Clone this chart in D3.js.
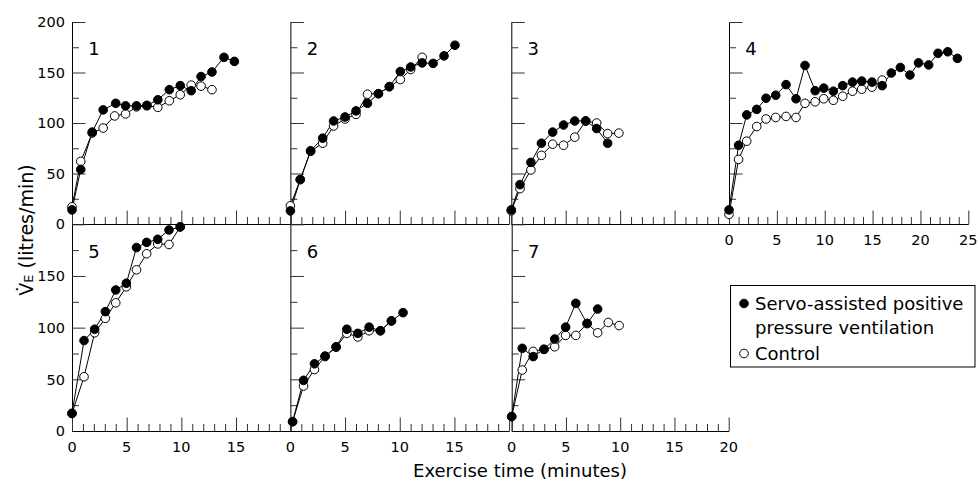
<!DOCTYPE html>
<html><head><meta charset="utf-8">
<script src="https://cdn.jsdelivr.net/npm/d3@7"></script>
<style>
body{margin:0;background:#fff}
svg{display:block}
text{font-family:"DejaVu Sans",sans-serif;fill:#000}
</style>
</head><body>
<svg id="chart" width="978" height="480"></svg>
<script>
// ---- data: [exercise time (min), VE (litres/min)] ----
const servo1 = [[0,14],[0.8,54],[1.85,91],[2.85,113],[4,119.5],[4.9,117],[5.9,117],[6.85,117.5],[7.85,123],[8.9,133],[9.9,137],[10.9,132],[11.8,146],[12.8,150.5],[13.9,165],[14.85,161]];
const control1 = [[0,17],[0.8,62],[1.85,90],[2.85,95],[3.9,107],[4.9,109],[5.9,116],[6.85,117],[7.85,115.5],[8.9,122],[9.9,128],[10.9,137.5],[11.8,136.5],[12.8,133]];
const servo2 = [[0,13],[0.9,44],[1.85,72.5],[2.95,85],[3.95,102],[5,106],[6,112],[7.05,119.5],[8.05,129],[9.05,136],[10.05,151],[11,155.5],[12.05,159.5],[13.05,159],[14.05,166.5],[15.05,177]];
const control2 = [[0,18],[0.9,44],[1.85,72],[2.95,80],[3.95,97],[5,104],[6,108.5],[7.05,128.5],[8.05,129],[9.05,136],[10.05,143],[11,153],[12.05,165]];
const servo3 = [[0,14],[0.8,39],[1.8,61],[2.77,80],[3.8,91],[4.8,98],[5.83,102],[6.83,102],[7.84,94.5],[8.85,80]];
const control3 = [[0,13],[0.8,35],[1.8,53.5],[2.77,68],[3.8,79],[4.8,78],[5.83,86],[6.83,102],[7.84,100],[8.85,89.5],[9.88,90]];
const servo4 = [[0,14],[1,78],[1.85,108],[2.9,113.5],[3.87,124.5],[4.88,127.5],[5.96,138],[7,124],[7.94,157],[9,132],[9.9,134.5],[10.9,131.5],[11.88,137],[12.9,140.5],[13.87,141.5],[14.94,140.5],[16,137],[16.96,149.5],[17.9,155],[18.9,147.5],[19.8,159.5],[20.86,157.5],[21.84,169],[22.85,170.5],[23.86,164]];
const control4 = [[0,9.5],[1,64],[1.85,82],[2.9,96.5],[3.87,104],[4.88,105.5],[5.96,106.5],[7,105.5],[7.94,119.5],[9,121],[9.9,124],[10.9,122.5],[11.88,126.5],[12.9,131.5],[13.87,133.5],[14.94,135.5],[16,142.5]];
const servo5 = [[0,17],[1.1,87.5],[2.07,98.5],[3.05,115.5],[4,136.5],[4.97,143],[5.9,177.5],[6.83,182.5],[7.84,185.5],[8.87,194.5],[9.9,197.5]];
const control5 = [[0,17],[1.1,52.5],[2.07,95],[3.05,109],[4,124],[4.97,139.5],[5.9,156],[6.83,171.5],[7.84,181],[8.87,180.5],[9.9,197.5]];
const servo6 = [[0.2,9],[1.2,49],[2.2,65],[3.17,72.5],[4.18,81.5],[5.16,98.5],[6.17,94.5],[7.2,100.5],[8.23,97],[9.24,106.5],[10.3,114.5]];
const control6 = [[0.2,9],[1.2,43.5],[2.2,59.5],[3.17,72],[4.18,81],[5.16,94.5],[6.17,91],[7.2,97],[8.23,97],[9.24,106.5]];
const servo7 = [[0,14],[0.97,80],[1.98,72],[2.98,79],[3.96,89],[4.97,100.5],[5.91,123.5],[6.95,104],[7.92,118]];
const control7 = [[0,14],[0.97,59],[1.98,77],[2.98,79],[3.96,81.5],[4.97,92.5],[5.91,92.5],[6.95,104],[7.92,95],[8.9,105],[9.9,102]];

const panelNames = ["1","2","3","4","5","6","7"];
const servoSeries = [servo1,servo2,servo3,servo4,servo5,servo6,servo7];
const controlSeries = [control1,control2,control3,control4,control5,control6,control7];
const yTicksTop = [0,50,100,150,200];
const yTicksBottom = [0,50,100,150];
const xTicksShort = [0,5,10,15];
const xTicksMid = [0,5,10,15,20];
const xTicksLong = [0,5,10,15,20,25];
const legendLabels = ["Servo-assisted positive","pressure ventilation","Control"];
const xTitle = "Exercise time (minutes)";

// ---- layout ----
const svg = d3.select("#chart");
const rows = [{y0:224, y1:22}, {y0:431, y1:224.3}];
const layout = [
  {row:0, x0:72,    w:218.7, xMax:20, yLab:yTicksTop,    xLab:null},
  {row:0, x0:290.4, w:218.7, xMax:20, yLab:null,         xLab:null},
  {row:0, x0:511.3, w:217.7, xMax:20, yLab:null,         xLab:null},
  {row:0, x0:729,   w:239.3, xMax:25, yLab:null,         xLab:xTicksLong},
  {row:1, x0:72,    w:218.7, xMax:20, yLab:yTicksBottom, xLab:xTicksShort},
  {row:1, x0:290.4, w:218.7, xMax:20, yLab:null,         xLab:xTicksShort},
  {row:1, x0:511.7, w:217.0, xMax:20, yLab:null,         xLab:xTicksMid}
];
const R = 4.3;

layout.forEach((p, i) => {
  const r = rows[p.row];
  const x = d3.scaleLinear().domain([0, p.xMax]).range([p.x0, p.x0 + p.w]);
  const y = d3.scaleLinear().domain([0, 200]).range([r.y0, r.y1]);
  const g = svg.append("g");

  // y axis: minor and major ticks pointing inward
  const yMinor = d3.range(0, 201, 25).filter(v => v % 50 !== 0);
  const yMajor = d3.range(0, 201, 50);
  g.append("g").attr("transform", `translate(${p.x0},0)`)
    .call(d3.axisRight(y).tickValues(yMinor).tickSize(7).tickSizeOuter(0).tickFormat(""));
  g.append("g").attr("transform", `translate(${p.x0},0)`)
    .call(d3.axisRight(y).tickValues(yMajor).tickSize(13.5).tickSizeOuter(0).tickFormat(""))
    .select(".domain").remove();

  // x axis: ticks pointing up
  const xMinor = d3.range(0, p.xMax + 1).filter(v => v % 5 !== 0);
  const xMajor = d3.range(0, p.xMax + 1, 5);
  g.append("g").attr("transform", `translate(0,${r.y0})`)
    .call(d3.axisTop(x).tickValues(xMinor).tickSize(7).tickSizeOuter(0).tickFormat(""));
  g.append("g").attr("transform", `translate(0,${r.y0})`)
    .call(d3.axisTop(x).tickValues(xMajor).tickSize(13.5).tickSizeOuter(0).tickFormat(""))
    .select(".domain").remove();

  g.selectAll(".tick line").attr("stroke", "#333");
  g.selectAll(".domain").attr("stroke", "#000");

  if (p.yLab) {
    g.selectAll(".ylab").data(p.yLab).enter().append("text")
      .attr("x", p.x0 - 7).attr("y", d => y(d) + 5.3)
      .attr("text-anchor", "end").attr("font-size", 14.5).text(d => d);
  }
  if (p.xLab) {
    g.selectAll(".xlab").data(p.xLab).enter().append("text")
      .attr("x", d => x(d)).attr("y", r.y0 + 20.5)
      .attr("text-anchor", "middle").attr("font-size", 14.5).text(d => d);
  }

  // panel number
  g.append("text").attr("x", p.x0 + 22).attr("y", y(167))
    .attr("text-anchor", "middle").attr("font-size", 18).text(panelNames[i]);

  const line = d3.line().x(d => x(d[0])).y(d => y(d[1]));
  g.append("path").datum(controlSeries[i]).attr("d", line)
    .attr("fill", "none").attr("stroke", "#000").attr("stroke-width", 1);
  g.append("path").datum(servoSeries[i]).attr("d", line)
    .attr("fill", "none").attr("stroke", "#000").attr("stroke-width", 1);
  g.selectAll(".ctrl").data(controlSeries[i]).enter().append("circle")
    .attr("cx", d => x(d[0])).attr("cy", d => y(d[1])).attr("r", R)
    .attr("fill", "#fff").attr("stroke", "#000").attr("stroke-width", 1);
  g.selectAll(".servo").data(servoSeries[i]).enter().append("circle")
    .attr("cx", d => x(d[0])).attr("cy", d => y(d[1])).attr("r", R)
    .attr("fill", "#000").attr("stroke", "#000").attr("stroke-width", 1);
});

// axis titles
const yt = svg.append("text").attr("transform", "translate(33,230) rotate(-90)")
  .attr("text-anchor", "middle").attr("font-size", 19);
yt.append("tspan").text("V\u0307");
yt.append("tspan").attr("font-size", 13).text("E");
yt.append("tspan").text(" (litres/min)");

svg.append("text").attr("x", 520).attr("y", 477).attr("text-anchor", "middle")
  .attr("font-size", 18).text(xTitle);

// legend
const lg = svg.append("g");
lg.append("rect").attr("x", 730.5).attr("y", 285.5).attr("width", 244.5).attr("height", 81.5)
  .attr("fill", "#fff").attr("stroke", "#000").attr("stroke-width", 1);
lg.append("circle").attr("cx", 744).attr("cy", 303.5).attr("r", R)
  .attr("fill", "#000").attr("stroke", "#000");
lg.append("circle").attr("cx", 744).attr("cy", 353.5).attr("r", R)
  .attr("fill", "#fff").attr("stroke", "#000");
[309.5, 334, 359.5].forEach((yy, k) => {
  lg.append("text").attr("x", 755).attr("y", yy).attr("font-size", 18).text(legendLabels[k]);
});
</script>
</body></html>
